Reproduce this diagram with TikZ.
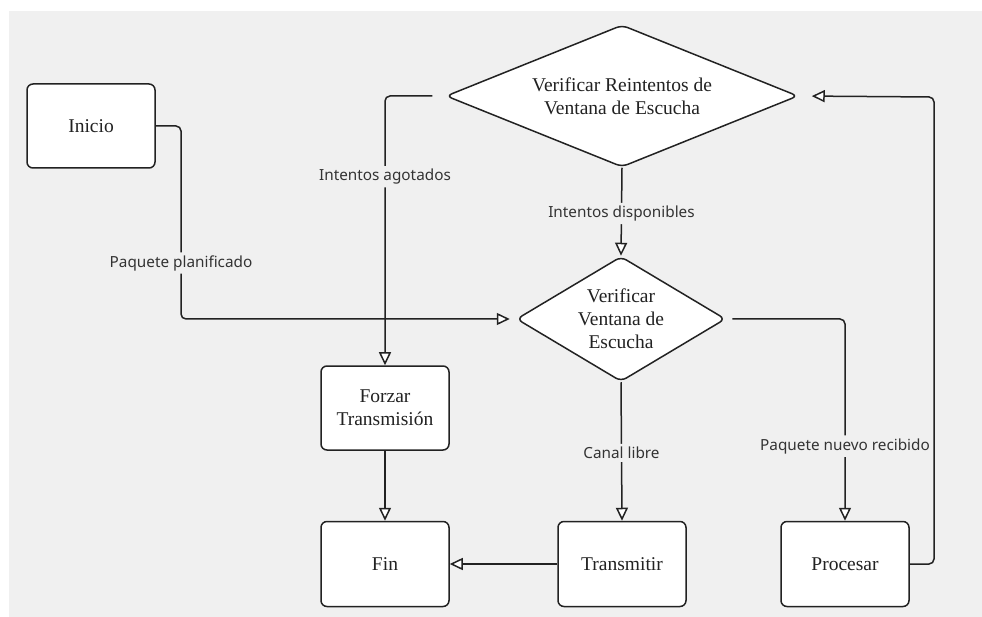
\documentclass[tikz,border=0pt]{standalone}
\usepackage{fontspec}
\setmainfont{Liberation Serif}
\newfontfamily\lblfont{Noto Sans}
\usetikzlibrary{shapes.geometric,arrows.meta}
\definecolor{canvas}{HTML}{F0F0F0}
\definecolor{ink}{HTML}{222222}
\definecolor{lbltext}{HTML}{333333}
\tikzset{
  stepbox/.style={draw=ink, line width=1.5pt, fill=white, rounded corners=6pt,
    minimum width=128pt, minimum height=85pt, inner sep=0pt, align=center,
    text=ink, font=\fontsize{19.5}{23}\selectfont},
  decision/.style={shape=diamond, draw=ink, line width=1.5pt, fill=white,
    rounded corners=6pt, inner sep=0pt, align=center, text=ink,
    font=\fontsize{19.5}{23}\selectfont},
  conn/.style={draw=ink, line width=1.5pt, rounded corners=5pt,
    -{Triangle[length=13pt,width=12pt,fill=white,line width=1.5pt]}},
  lbl/.style={fill=canvas, inner sep=3pt, text=lbltext,
    font=\lblfont\fontsize{15.3}{18}\selectfont},
}
\begin{document}
\begin{tikzpicture}[x=1pt,y=-1pt]
  \useasboundingbox (0,0) rectangle (982,617);
  \fill[white] (0,0) rectangle (982,617);
  \fill[canvas] (9,11) rectangle (982,617);

  % boxes
  \node[stepbox, minimum height=84pt] (inicio) at (91,126) {Inicio};
  \node[stepbox, minimum height=84pt] (forzar) at (385,408) {Forzar\\Transmisión};
  \node[stepbox] (fin) at (385,564) {Fin};
  \node[stepbox] (transmitir) at (622,564) {Transmitir};
  \node[stepbox] (procesar) at (845,564) {Procesar};

  % decisions
  \node[decision, aspect=2.48, minimum width=352pt, minimum height=142pt]
    (reint) at (622,96) {Verificar Reintentos de\\Ventana de Escucha};
  \node[decision, aspect=1.67, minimum width=209pt, minimum height=125pt]
    (ventana) at (621,319) {Verificar\\Ventana de\\Escucha};

  % connectors
  \draw[conn, shorten >=6pt] (inicio.east) -- (181,126)
    -- node[lbl, pos=0.71] {Paquete planificado} (181,319) -- (ventana.west);
  \draw[conn, shorten <=13pt] (reint.west) -- (385,96)
    -- node[lbl, pos=0.30] {Intentos agotados} (forzar.north);
  \draw[conn] (reint.south) -- node[lbl, pos=0.52] {Intentos disponibles} (ventana.north);
  \draw[conn] (ventana.south) -- node[lbl, pos=0.51] {Canal libre} (transmitir.north);
  \draw[conn, shorten <=6pt] (ventana.east) -- (845,319)
    -- node[lbl, pos=0.63] {Paquete nuevo recibido} (procesar.north);
  \draw[conn, shorten >=13pt] (procesar.east) -- (934,564) -- (934,97) -- (reint.east);
  \draw[conn] (forzar.south) -- (fin.north);
  \draw[conn] (transmitir.west) -- (fin.east);
\end{tikzpicture}
\end{document}
